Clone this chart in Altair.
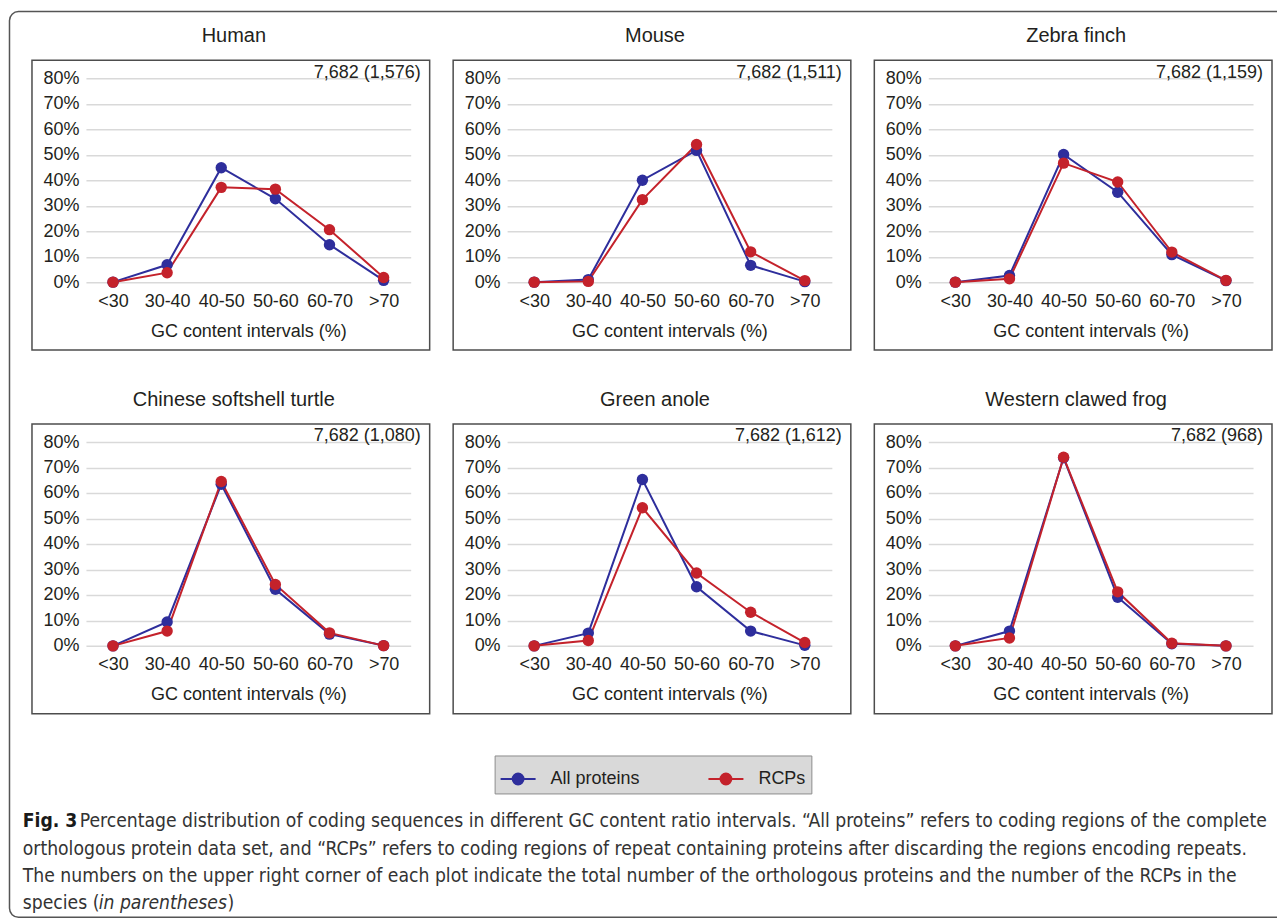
import altair as alt
import pandas as pd

categories = ["<30", "30-40", "40-50", "50-60", "60-70", ">70"]
species = ["Human", "Mouse", "Zebra finch",
           "Chinese softshell turtle", "Green anole", "Western clawed frog"]
total_orthologs = 7682
rcp_counts = [1576, 1511, 1159, 1080, 1612, 968]
series_names = ["All proteins", "RCPs"]
series_colors = ["#2e2e9c", "#c4222b"]

# percentages per GC interval
human_all = [0, 6.8, 44.9, 32.7, 14.7, 0.7]
human_rcp = [0, 3.7, 37.2, 36.5, 20.6, 1.8]
mouse_all = [0, 1.0, 40.0, 51.7, 6.6, 0.2]
mouse_rcp = [0, 0.3, 32.4, 54.0, 11.9, 0.6]
finch_all = [0, 2.6, 50.1, 35.3, 10.8, 0.6]
finch_rcp = [0, 1.3, 46.7, 39.3, 11.8, 0.7]
turtle_all = [0, 9.4, 63.4, 22.2, 4.6, 0.1]
turtle_rcp = [0, 5.8, 64.5, 24.1, 5.1, 0.1]
anole_all = [0, 5.0, 65.3, 23.2, 5.8, 0.2]
anole_rcp = [0, 2.1, 54.2, 28.6, 13.2, 1.3]
frog_all = [0, 5.8, 73.8, 19.1, 0.8, 0.0]
frog_rcp = [0, 3.1, 74.0, 21.2, 1.0, 0.0]

all_series = [human_all, mouse_all, finch_all, turtle_all, anole_all, frog_all]
rcp_series = [human_rcp, mouse_rcp, finch_rcp, turtle_rcp, anole_rcp, frog_rcp]

caption_l1_bold = "Fig. 3"
caption_l1 = ("Percentage distribution of coding sequences in different GC content ratio intervals. "
              "\u201cAll proteins\u201d refers to coding regions of the complete")
caption_l2 = ("orthologous protein data set, and \u201cRCPs\u201d refers to coding regions of repeat "
              "containing proteins after discarding the regions encoding repeats.")
caption_l3 = ("The numbers on the upper right corner of each plot indicate the total number of the "
              "orthologous proteins and the number of the RCPs in the")
caption_l4a = "species ("
caption_l4b = "in parentheses"
caption_l4c = ")"

FONT = "Liberation Sans"
CAP_FONT = "'Liberation Sans Narrow', 'DejaVu Sans Condensed', sans-serif"
CAP_SIZE = 19.2
TEXT = "#231f20"
PW, PH = 325, 204

legend_symbol = ("M-1,0H1M-0.31,0A0.31,0.31,0,1,0,0.31,0"
                 "A0.31,0.31,0,1,0,-0.31,0Z")


def panel(i):
    rows = []
    for s, vals in ((series_names[0], all_series[i]), (series_names[1], rcp_series[i])):
        for k, (c, v) in enumerate(zip(categories, vals)):
            rows.append({"cat": c, "series": s, "pct": v / 100.0, "idx": k})
    df = pd.DataFrame(rows)

    lines = alt.Chart(df).mark_line(
        strokeWidth=2,
        point=alt.OverlayMarkDef(filled=True, size=130, opacity=1),
    ).encode(
        x=alt.X("cat:N", sort=categories,
                scale=alt.Scale(type="point", padding=0.5),
                axis=alt.Axis(title="GC content intervals (%)", labelAngle=0,
                              labelPadding=10, titlePadding=12, grid=False,
                              domain=False, ticks=False)),
        y=alt.Y("pct:Q", scale=alt.Scale(domain=[0, 0.8], nice=False),
                axis=alt.Axis(title=None, format=".0%",
                              values=[0, 0.1, 0.2, 0.3, 0.4, 0.5, 0.6, 0.7, 0.8],
                              labelPadding=7, domain=False, ticks=False,
                              grid=True, gridColor="#d9d9d9", gridWidth=1.5)),
        color=alt.Color("series:N",
                        scale=alt.Scale(domain=series_names, range=series_colors),
                        legend=alt.Legend(
                            title=None, orient="none", direction="horizontal",
                            legendX=409, legendY=677.7,
                            symbolType=legend_symbol, symbolSize=1225,
                            symbolStrokeWidth=2,
                            labelFontSize=18, labelFont=FONT, labelColor=TEXT,
                            labelOffset=14, columnPadding=64, padding=5,
                            fillColor="#d9d9d9", strokeColor="#8c8c8c")),
        order=alt.Order("idx:Q"),
    )

    ann = alt.Chart(pd.DataFrame(
        {"t": [f"{total_orthologs:,} ({rcp_counts[i]:,})"]})
    ).mark_text(align="right", baseline="middle", fontSize=18, font=FONT,
                color=TEXT).encode(x=alt.value(335), y=alt.value(-5.6), text="t:N")

    ttl = alt.Chart(pd.DataFrame({"name": [species[i]]})).mark_text(
        align="center", baseline="middle", fontSize=20, font=FONT, color=TEXT
    ).encode(x=alt.value(148), y=alt.value(-42.3), text="name:N")

    box = alt.Chart(pd.DataFrame({"a": [0]})).mark_rect(
        fill="transparent", stroke="#4d4d4d", strokeWidth=1.5
    ).encode(x=alt.value(-54), x2=alt.value(344), y=alt.value(-18), y2=alt.value(272))

    return alt.layer(box, lines, ann, ttl).properties(width=PW, height=PH)


def cap_text(line, text, dx=0, weight="normal", style="normal", color="#333333"):
    return alt.Chart(pd.DataFrame({"line": [line], "t": [text]})).mark_text(
        align="left", baseline="middle", font=CAP_FONT, fontSize=CAP_SIZE,
        fontWeight=weight, fontStyle=style, color=color, dx=dx,
    ).encode(
        x=alt.value(-63.25),
        y=alt.Y("line:Q", scale=alt.Scale(domain=[0, 3], range=[15.7, 97.7]),
                axis=None),
        text="t:N",
    )


frame = alt.Chart(pd.DataFrame({"a": [0]})).mark_rect(
    fill="transparent", stroke="#555555", strokeWidth=1.5,
    cornerRadiusTopLeft=9, cornerRadiusBottomLeft=9,
).encode(x=alt.value(-76.5), x2=alt.value(1205), y=alt.value(-794.8),
         y2=alt.value(111.7))

caption = alt.layer(
    frame,
    cap_text(0, caption_l1_bold, 0, weight="bold", color="#1a1a1a"),
    cap_text(0, caption_l1, 57),
    cap_text(1, caption_l2),
    cap_text(2, caption_l3),
    cap_text(3, caption_l4a),
    cap_text(3, caption_l4b, 76, style="italic"),
    cap_text(3, caption_l4c, 205),
).properties(width=PW, height=100)

chart = alt.concat(
    panel(0), panel(1), panel(2), panel(3), panel(4), panel(5), caption,
    columns=3, spacing={"row": 160, "column": 96.5}, bounds="flush",
).properties(
    padding={"left": 0, "top": 2, "right": -14, "bottom": 0},
    background="white",
).configure_view(strokeWidth=0).configure_axis(
    labelFont=FONT, labelFontSize=18, labelColor=TEXT,
    titleFont=FONT, titleFontSize=18, titleFontWeight="normal", titleColor=TEXT,
)

chart.save("out.html", embed_options={"renderer": "svg", "actions": False})
